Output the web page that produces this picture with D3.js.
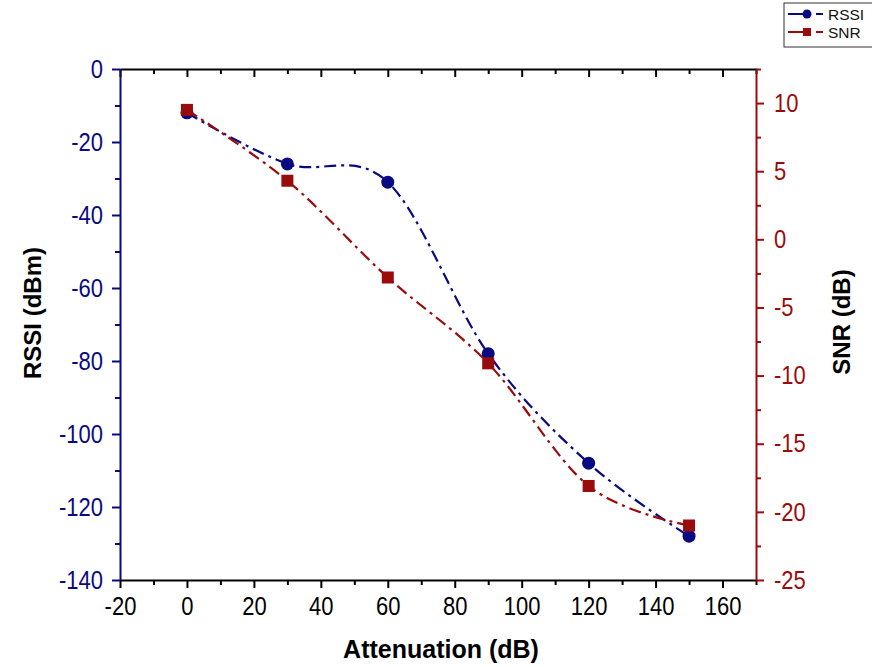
<!DOCTYPE html>
<html>
<head>
<meta charset="utf-8">
<script src="https://cdn.jsdelivr.net/npm/d3@7"></script>
<style>
  body { margin: 0; background: #fff; }
  svg { font-family: "Liberation Sans", Arial, sans-serif; }
  .tick text { transform-box: fill-box; transform-origin: center; transform: scaleY(1.15); }
</style>
</head>
<body>
<svg id="chart" width="872" height="667"></svg>
<script>
// data
const attenuation = [0, 30, 60, 90, 120, 150];
const rssi = [-12, -26, -31, -78, -108, -128];
const snr = [9.5, 4.3, -2.8, -9.1, -18.1, -21.0];

const xTicks = [-20, 0, 20, 40, 60, 80, 100, 120, 140, 160];
const rssiTicks = [0, -20, -40, -60, -80, -100, -120, -140];
const snrTicks = [10, 5, 0, -5, -10, -15, -20, -25];

const blue = "#0a0a80";
const red = "#9a0c0c";

const svg = d3.select("#chart");

const plotL = 120, plotR = 756, plotT = 69, plotB = 580;

const x = d3.scaleLinear().domain([-20, 170]).range([plotL, plotR]);
const yL = d3.scaleLinear().domain([-140, 0]).range([plotB, plotT]);
const yR = d3.scaleLinear().domain([-25, 12.5]).range([plotB, plotT]);

// minor ticks
const xMinor = d3.range(-10, 171, 20);
const yLMinor = d3.range(-130, 0, 20);
const yRMinor = d3.range(-22.5, 12.6, 5);

const fmt = d => String(d); // plain hyphen minus like the original

function styleAxis(g, color, size) {
  g.select(".domain").attr("stroke", color).attr("stroke-width", 2);
  g.selectAll(".tick line").attr("stroke", color).attr("stroke-width", 2);
  g.selectAll(".tick text").attr("fill", color).attr("font-size", size);
}
function minor(g, color) {
  g.select(".domain").remove();
  g.selectAll("line").attr("stroke", color).attr("stroke-width", 2);
}

// bottom axis
const gx = svg.append("g").attr("transform", `translate(0,${plotB})`);
gx.call(d3.axisBottom(x).tickValues(xTicks).tickFormat(fmt).tickSize(8).tickPadding(10).tickSizeOuter(0));
styleAxis(gx, "#000", 22);
svg.append("g").attr("transform", `translate(0,${plotB})`)
  .call(d3.axisBottom(x).tickValues(xMinor).tickSize(5).tickFormat(""))
  .call(g => minor(g, "#000"));

// top axis (ticks inward)
const gt = svg.append("g").attr("transform", `translate(0,${plotT})`);
gt.call(d3.axisBottom(x).tickValues(xTicks).tickSize(8).tickFormat("").tickSizeOuter(0));
styleAxis(gt, "#000", 0);
svg.append("g").attr("transform", `translate(0,${plotT})`)
  .call(d3.axisBottom(x).tickValues(xMinor).tickSize(5).tickFormat(""))
  .call(g => minor(g, "#000"));

// left axis
const gl = svg.append("g").attr("transform", `translate(${plotL},0)`);
gl.call(d3.axisLeft(yL).tickValues(rssiTicks).tickFormat(fmt).tickSize(8).tickPadding(9).tickSizeOuter(0));
styleAxis(gl, blue, 22);
svg.append("g").attr("transform", `translate(${plotL},0)`)
  .call(d3.axisLeft(yL).tickValues(yLMinor).tickSize(5).tickFormat(""))
  .call(g => minor(g, blue));

// right axis
const gr = svg.append("g").attr("transform", `translate(${plotR},0)`);
gr.call(d3.axisRight(yR).tickValues(snrTicks).tickFormat(fmt).tickSize(8).tickPadding(10).tickSizeOuter(0));
styleAxis(gr, red, 22);
svg.append("g").attr("transform", `translate(${plotR},0)`)
  .call(d3.axisRight(yR).tickValues(yRMinor).tickSize(5).tickFormat(""))
  .call(g => minor(g, red));

// axis titles
svg.append("text")
  .attr("x", 441).attr("y", 658)
  .attr("text-anchor", "middle").attr("font-size", 25).attr("font-weight", "bold")
  .text("Attenuation (dB)");
svg.append("text")
  .attr("transform", "translate(41,313) rotate(-90)")
  .attr("text-anchor", "middle").attr("font-size", 24).attr("font-weight", "bold")
  .text("RSSI (dBm)");
svg.append("text")
  .attr("transform", "translate(850,322) rotate(-90)")
  .attr("text-anchor", "middle").attr("font-size", 24).attr("font-weight", "bold")
  .text("SNR (dB)");

// lines
const dash = "12,5,3,5";
const lineL = d3.line().x((d, i) => x(attenuation[i])).y(d => yL(d)).curve(d3.curveCardinal.tension(0));
const lineR = d3.line().x((d, i) => x(attenuation[i])).y(d => yR(d)).curve(d3.curveCardinal.tension(0));

svg.append("path").datum(rssi).attr("d", lineL)
  .attr("fill", "none").attr("stroke", blue).attr("stroke-width", 2.2).attr("stroke-dasharray", dash);
svg.append("path").datum(snr).attr("d", lineR)
  .attr("fill", "none").attr("stroke", red).attr("stroke-width", 2.2).attr("stroke-dasharray", dash);

svg.selectAll(".dot").data(rssi).enter().append("circle")
  .attr("cx", (d, i) => x(attenuation[i])).attr("cy", d => yL(d))
  .attr("r", 6.5).attr("fill", blue);
svg.selectAll(".sq").data(snr).enter().append("rect")
  .attr("x", (d, i) => x(attenuation[i]) - 6).attr("y", d => yR(d) - 6)
  .attr("width", 12).attr("height", 12).attr("fill", red);

// legend
const lg = svg.append("g");
lg.append("rect").attr("x", 784).attr("y", 3).attr("width", 100).attr("height", 44)
  .attr("fill", "#fff").attr("stroke", "#333").attr("stroke-width", 1);
const items = [{name: "RSSI", color: blue, shape: "circle"}, {name: "SNR", color: red, shape: "square"}];
items.forEach((it, i) => {
  const yy = 14 + i * 18;
  lg.append("line").attr("x1", 788).attr("x2", 808).attr("y1", yy).attr("y2", yy)
    .attr("stroke", it.color).attr("stroke-width", 2);
  lg.append("line").attr("x1", 816).attr("x2", 823).attr("y1", yy).attr("y2", yy)
    .attr("stroke", it.color).attr("stroke-width", 2);
  if (it.shape === "circle") {
    lg.append("circle").attr("cx", 807).attr("cy", yy).attr("r", 4.5).attr("fill", it.color);
  } else {
    lg.append("rect").attr("x", 803).attr("y", yy - 4).attr("width", 8).attr("height", 8).attr("fill", it.color);
  }
  lg.append("text").attr("x", 828).attr("y", yy + 5.5).attr("font-size", 15.5).attr("fill", "#111").text(it.name);
});
</script>
</body>
</html>
